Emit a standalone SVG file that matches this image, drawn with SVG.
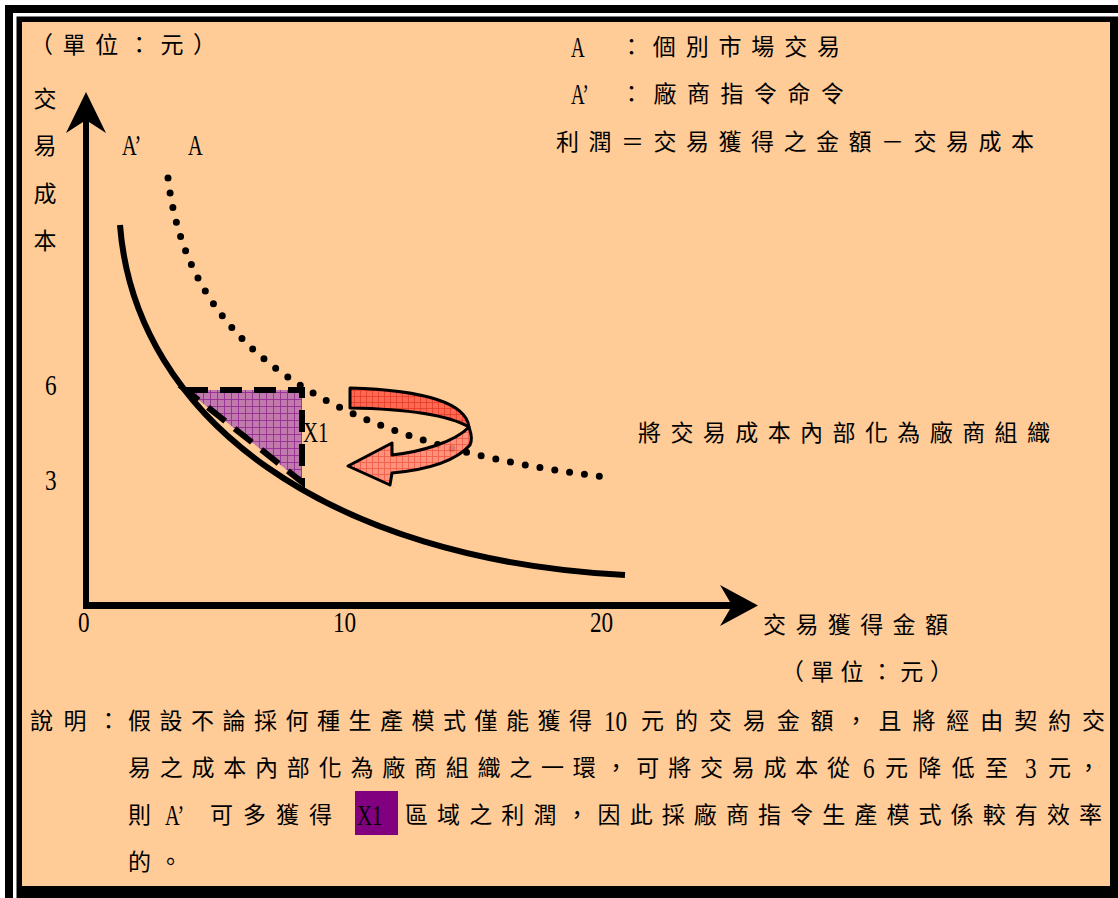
<svg xmlns="http://www.w3.org/2000/svg" width="1118" height="898" viewBox="0 0 1118 898">
<style>
.cjk{font-family:"Liberation Serif","Noto Sans CJK TC",serif;font-size:23px;fill:#000}
.lat{font-family:"Liberation Serif",serif;font-size:29px;fill:#000}
</style>
<defs>
<pattern id="pPur" width="7" height="7" patternUnits="userSpaceOnUse">
<rect width="7" height="7" fill="#c07aac"/>
<path d="M0,0.5H7M0.5,0V7" stroke="#962e94" stroke-width="0.9"/>
</pattern>
<pattern id="pRed" width="6" height="6" patternUnits="userSpaceOnUse">
<rect width="6" height="6" fill="#ff5a48"/>
<path d="M0,0.5H6M0.5,0V6" stroke="#e02818" stroke-width="0.8"/>
</pattern>
<pattern id="pRed2" width="6" height="6" patternUnits="userSpaceOnUse">
<rect width="6" height="6" fill="#ff8a78"/>
<path d="M0,0.5H6M0.5,0V6" stroke="#f04a38" stroke-width="0.8"/>
</pattern>
</defs>
<g id="frame">
<rect x="0" y="0" width="1118" height="898" fill="#fff"/>
<rect x="5" y="5" width="1113" height="893" fill="#000"/>
<rect x="13" y="13" width="1105" height="885" fill="#fff"/>
<rect x="16.5" y="16.5" width="1101.5" height="881.5" fill="#000"/>
<rect x="22" y="22" width="1088" height="864" fill="#ffcb97"/>
</g>
<g id="connectors">
<path id="y-axis" d="M86,92 L106,133 L89,122 L89,609 L83,609 L83,122 L66,133 Z" fill="#000"/>
<path id="x-axis" d="M83,602 L730,602 L720,585 L758,605.5 L720,626 L730,609 L83,609 Z" fill="#000"/>
</g>
<g id="region-x1">
<path d="M186,390 L302,390 L302,482 Z" fill="url(#pPur)"/>
<path d="M186,390 L302,390 L302,482 Z" fill="none" stroke="#000" stroke-width="6" stroke-dasharray="22 12"/>
</g>
<g id="curve-a-prime">
<path d="M120,225 C135,420 330,560 625,575" fill="none" stroke="#000" stroke-width="6"/>
</g>
<g id="curve-a">
<path d="M168,178 C186,330 300,440 605,477" fill="none" stroke="#000" stroke-width="7" stroke-linecap="round" stroke-dasharray="0 15"/>
</g>
<g id="curved-arrow" stroke="#000" stroke-width="3" stroke-linejoin="round" fill-opacity="0.88">
<path d="M350,388 C420,390 466,402 469,427 C450,416 410,409 350,408 Z" fill="url(#pRed)"/>
<path d="M392,455 C420,452 455,442 469,427 C472,436 472,440 470,445 C455,462 425,470 392,473 L390,485 L348,466 L392,443 Z" fill="url(#pRed2)"/>
</g>
<g id="labels">
<text class="cjk" x="30" y="53" textLength="186" lengthAdjust="spacing">（單位：元）</text>
<text class="cjk" x="45" y="107" text-anchor="middle">交</text>
<text class="cjk" x="45" y="154" text-anchor="middle">易</text>
<text class="cjk" x="45" y="202" text-anchor="middle">成</text>
<text class="cjk" x="45" y="249" text-anchor="middle">本</text>
<text class="lat" transform="translate(122,155) scale(0.7,1)">A’</text>
<text class="lat" transform="translate(188,155) scale(0.7,1)">A</text>
<text class="lat" transform="translate(571,57) scale(0.65,1)">A</text>
<text class="cjk" x="620" y="55" textLength="220" lengthAdjust="spacing">：個別市場交易</text>
<text class="lat" transform="translate(571,104) scale(0.65,1)">A’</text>
<text class="cjk" x="620" y="102" textLength="224" lengthAdjust="spacing">：廠商指令命令</text>
<text class="cjk" x="556" y="150" textLength="478" lengthAdjust="spacing">利潤＝交易獲得之金額－交易成本</text>
<text class="lat" transform="translate(45,395) scale(0.8,1)">6</text>
<text class="lat" transform="translate(45,490) scale(0.8,1)">3</text>
<text class="lat" transform="translate(303,442) scale(0.72,1)">X1</text>
<text class="cjk" x="638" y="441" textLength="412" lengthAdjust="spacing">將交易成本內部化為廠商組織</text>
<text class="lat" transform="translate(78,632) scale(0.8,1)">0</text>
<text class="lat" transform="translate(333,632) scale(0.8,1)">10</text>
<text class="lat" transform="translate(590,632) scale(0.8,1)">20</text>
<text class="cjk" x="763" y="633" textLength="185" lengthAdjust="spacing">交易獲得金額</text>
<text class="cjk" x="781" y="680" textLength="172" lengthAdjust="spacing">（單位：元）</text>
</g>
<g id="note">
<text class="cjk" x="30" y="729" textLength="90" lengthAdjust="spacing">說明：</text>
<text class="cjk" x="128" y="729" textLength="464" lengthAdjust="spacing">假設不論採何種生產模式僅能獲得</text>
<text class="lat" transform="translate(604,731) scale(0.8,1)">10</text>
<text class="cjk" x="641" y="729" textLength="464" lengthAdjust="spacing">元的交易金額，且將經由契約交</text>
<text class="cjk" x="128" y="776" textLength="722" lengthAdjust="spacing">易之成本內部化為廠商組織之一環，可將交易成本從</text>
<text class="lat" transform="translate(863,778) scale(0.8,1)">6</text>
<text class="cjk" x="885" y="776" textLength="123" lengthAdjust="spacing">元降低至</text>
<text class="lat" transform="translate(1025,778) scale(0.8,1)">3</text>
<text class="cjk" x="1048" y="776" textLength="52" lengthAdjust="spacing">元，</text>
<text class="cjk" x="128" y="823">則</text>
<text class="lat" transform="translate(165,825) scale(0.7,1)">A’</text>
<text class="cjk" x="210" y="823" textLength="122" lengthAdjust="spacing">可多獲得</text>
<rect x="355" y="791" width="43" height="44" fill="#800080"/>
<text class="lat" transform="translate(357,825) scale(0.72,1)">X1</text>
<text class="cjk" x="405" y="823" textLength="697" lengthAdjust="spacing">區域之利潤，因此採廠商指令生產模式係較有效率</text>
<text class="cjk" x="128" y="870" letter-spacing="8">的。</text>
</g>
</svg>
